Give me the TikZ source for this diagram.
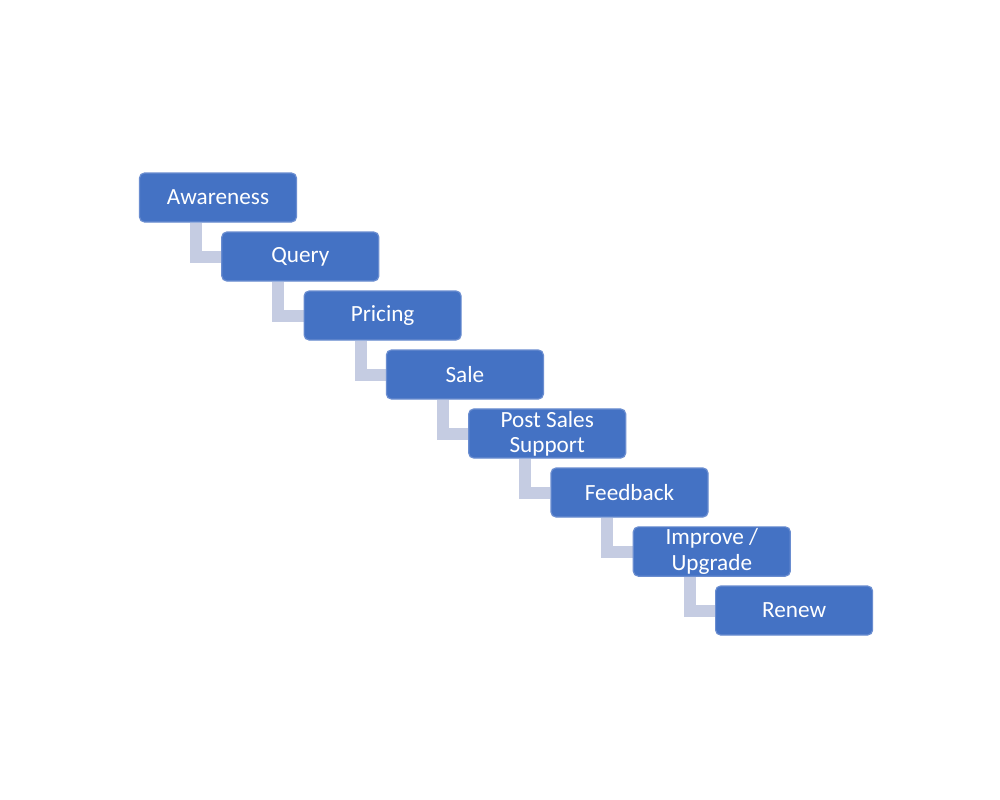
\documentclass[tikz,border=0pt]{standalone}
\usepackage{fontspec}
\setmainfont{Carlito}
\usetikzlibrary{calc,backgrounds}
\definecolor{boxblue}{HTML}{4472C4}
\definecolor{boxedge}{HTML}{6A8DD0}
\definecolor{linkgrey}{HTML}{C5CCE2}
\begin{document}
\begin{tikzpicture}[x=0.5pt,y=-0.5pt,
  stage/.style={draw=boxedge,line width=0.6pt,fill=boxblue,rounded corners=2.5pt,
    minimum width=78.5pt,minimum height=24.5pt,inner sep=1pt,text=white,align=center,
    font=\fontsize{11.6}{12.6}\selectfont},
  link/.style={draw=linkgrey,line width=6pt}]
\useasboundingbox (0,0) rectangle (1000,799);
\node[stage] (n1) at (218,197.5) {Awareness};
\node[stage] (n2) at (300.3,256.5) {Query};
\node[stage] (n3) at (382.6,315.5) {Pricing};
\node[stage] (n4) at (464.9,374.5) {Sale};
\node[stage] (n5) at (547.2,433.5) {Post Sales\\Support};
\node[stage] (n6) at (629.5,492.5) {Feedback};
\node[stage] (n7) at (711.8,551.5) {Improve /\\Upgrade};
\node[stage] (n8) at (794.1,610.5) {Renew};
\begin{scope}[on background layer]
\fill[white] (0,0) rectangle (1000,799);
\foreach \a/\b in {n1/n2,n2/n3,n3/n4,n4/n5,n5/n6,n6/n7,n7/n8}{
  \draw[link] ($(\a.south west)+(57,0)$) |- (\b.west);
}
\end{scope}
\end{tikzpicture}
\end{document}
